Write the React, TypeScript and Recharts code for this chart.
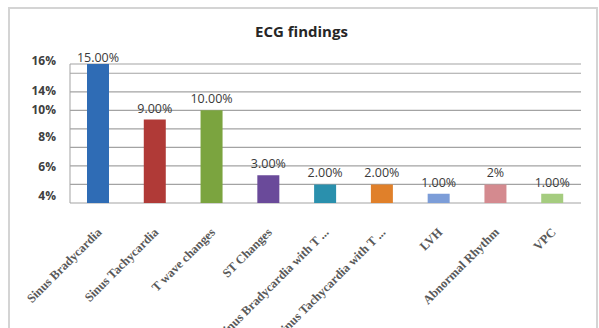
import { BarChart, Bar, Cell, XAxis, YAxis, CartesianGrid, LabelList } from 'recharts'

const categories = [
  'Sinus Bradycardia',
  'Sinus Tachycardia',
  'T wave changes',
  'ST Changes',
  'Sinus Bradycardia with T ...',
  'Sinus Tachycardia with T ...',
  'LVH',
  'Abnormal Rhythm',
  'VPC',
]
const values = [15, 9, 10, 3, 2, 2, 1, 2, 1]
const valueLabels = ['15.00%', '9.00%', '10.00%', '3.00%', '2.00%', '2.00%', '1.00%', '2%', '1.00%']
const barColors = ['#2f6cb5', '#b03a37', '#7ba43f', '#6a4a9a', '#2a90ad', '#e0802a', '#7c9dd8', '#d48a8f', '#a5cc7f']

// the printed axis labels do not sit on the gridlines in the original
const yTickValues = [0.8, 3.95, 7.1, 10.03, 12.1, 15.36]
const yTickLabels = ['4%', '6%', '8%', '10%', '14%', '16%']
const gridValues = [0, 2, 4, 6, 8, 10, 12, 14, 15]

const data = categories.map((name, i) => ({ name, value: values[i], label: valueLabels[i] }))
const edgeTicks = categories.map((_, i) => i).concat(categories.length)

function CategoryTick(props: any) {
  const { x, y, payload } = props
  const ax = x + 4
  const ay = y + 22
  return (
    <text
      x={ax}
      y={ay}
      transform={`rotate(-45, ${ax}, ${ay})`}
      textAnchor="end"
      fontFamily="'Liberation Serif', serif"
      fontWeight="bold"
      fontSize={12.5}
      fill="#595959"
    >
      {payload.value}
    </text>
  )
}

function ValueLabel(props: any) {
  const { x, y, width, index } = props
  const ty = Math.max(y - 7, 62)
  return (
    <text
      x={x + width / 2}
      y={ty}
      textAnchor="middle"
      fontFamily="'Open Sans', sans-serif"
      fontSize={12.5}
      fill="#3a3a3a"
    >
      {valueLabels[index]}
    </text>
  )
}

export default function App() {
  return (
    <div style={{ position: 'fixed', left: 0, top: 0, width: 599, height: 328, background: '#fff', overflow: 'hidden' }}>
      <div
        style={{
          position: 'absolute', left: 8, top: 7, width: 586, height: 400,
          border: '2px solid #d4d4d4',
        }}
      />
      <div
        style={{
          position: 'absolute', left: 0, top: 21, width: 603, textAlign: 'center',
          fontFamily: "'Open Sans', sans-serif", fontWeight: 'bold', fontSize: 15, color: '#262626',
        }}
      >
        ECG findings
      </div>
      <div style={{ position: 'absolute', left: 0, top: 0 }}>
        <BarChart width={599} height={328} data={data} margin={{ top: 64, right: 18, bottom: 0, left: 0 }}>
          <CartesianGrid vertical={false} horizontalValues={gridValues} stroke="#a3a3a3" strokeWidth={1.2} />
          <XAxis
            xAxisId="edge"
            type="number"
            domain={[0, categories.length]}
            ticks={edgeTicks}
            height={0}
            tickSize={4}
            tickFormatter={() => ''}
            stroke="#a3a3a3"
          />
          <XAxis
            xAxisId="cat"
            dataKey="name"
            height={125}
            axisLine={false}
            tickLine={false}
            interval={0}
            tick={<CategoryTick />}
          />
          <YAxis
            width={70}
            type="number"
            domain={[0, 15]}
            allowDataOverflow
            ticks={yTickValues}
            interval={0}
            tickFormatter={(v: number) => yTickLabels[yTickValues.indexOf(v)]}
            tickLine={false}
            tickSize={0}
            tickMargin={14}
            stroke="#a3a3a3"
            tick={{ fontFamily: "'Open Sans', sans-serif", fontWeight: 'bold', fontSize: 12, fill: '#404040' }}
          />
          <Bar dataKey="value" xAxisId="cat" barSize={22} isAnimationActive={false}>
            {data.map((_, i) => (
              <Cell key={i} fill={barColors[i]} />
            ))}
            <LabelList dataKey="label" content={<ValueLabel />} />
          </Bar>
        </BarChart>
      </div>
    </div>
  )
}
